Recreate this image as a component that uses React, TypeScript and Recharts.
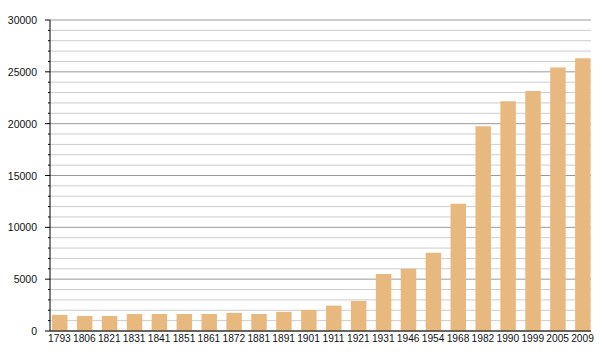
import { BarChart, Bar, XAxis, YAxis, CartesianGrid } from "recharts";

const years = [
  "1793", "1806", "1821", "1831", "1841", "1851", "1861", "1872", "1881", "1891", "1901", "1911",
  "1921", "1931", "1946", "1954", "1968", "1982", "1990", "1999", "2005", "2009",
];
const population = [
  1550, 1450, 1450, 1640, 1640, 1640, 1640, 1750, 1640, 1850, 2030, 2450,
  2900, 5500, 6000, 7550, 12280, 19750, 22170, 23150, 25430, 26300,
];

const minorValues = [
  1000, 2000, 3000, 4000, 6000, 7000, 8000, 9000, 11000, 12000, 13000, 14000,
  16000, 17000, 18000, 19000, 21000, 22000, 23000, 24000, 26000, 27000, 28000, 29000,
];
const majorValues = [0, 5000, 10000, 15000, 20000, 25000, 30000];
const yTicks = [...majorValues, ...minorValues].sort((a, b) => a - b);

const data = years.map((year, i) => ({ year, population: population[i] }));

const FONT = "'Liberation Sans', Arial, sans-serif";

function YTick(props: { x?: number; y?: number; payload?: { value: number } }) {
  const { x = 0, y = 0, payload } = props;
  const v = payload ? payload.value : 0;
  const major = v % 5000 === 0;
  return (
    <g>
      <line x1={x - (major ? 5 : 2)} x2={x} y1={y} y2={y} stroke="#000" strokeWidth={1} />
      {major && (
        <text x={x - 13} y={y + 4} textAnchor="end" fontSize={10.5} fontFamily={FONT} fill="#111">
          {v}
        </text>
      )}
    </g>
  );
}

export default function App() {
  return (
    <div style={{ position: "absolute", left: 0, top: 0, width: 600, height: 360, background: "#fff" }}>
      <BarChart
        width={600}
        height={360}
        data={data}
        margin={{ top: 20, right: 9, bottom: 0, left: 0 }}
        barCategoryGap={0}
      >
        <CartesianGrid vertical={false} horizontalValues={minorValues} stroke="#cccccc" />
        <CartesianGrid vertical={false} horizontalValues={majorValues} stroke="#999999" />
        <XAxis
          dataKey="year"
          height={29}
          interval={0}
          tickLine={false}
          tickSize={0}
          tickMargin={4}
          padding={{ left: -3, right: -4 }}
          axisLine={{ stroke: "#000" }}
          tick={{ fontSize: 10.2, fontFamily: FONT, fill: "#111" }}
        />
        <YAxis
          width={50}
          domain={[0, 30000]}
          ticks={yTicks}
          interval={0}
          tickLine={false}
          tickSize={0}
          tickMargin={0}
          axisLine={{ stroke: "#000" }}
          tick={<YTick />}
        />
        <Bar dataKey="population" fill="#e8b97f" barSize={15.5} isAnimationActive={false} />
      </BarChart>
    </div>
  );
}
